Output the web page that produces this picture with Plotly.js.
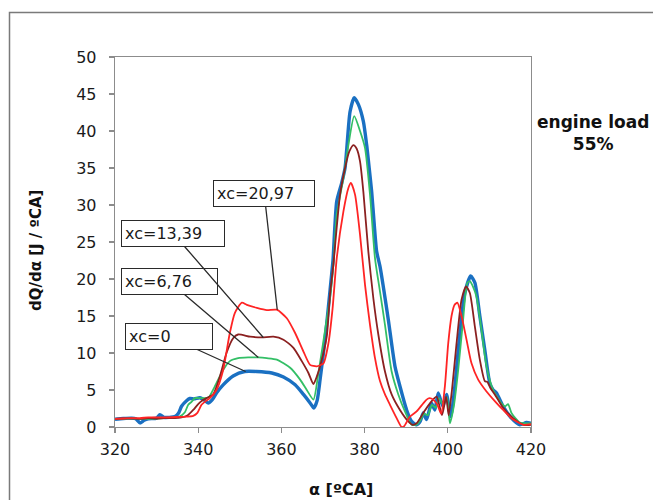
<!DOCTYPE html>
<html>
<head>
<meta charset="utf-8">
<script src="https://cdn.plot.ly/plotly-3.0.1.min.js"></script>
<style>
  html, body { margin: 0; padding: 0; background: #ffffff; }
  #chart { width: 653px; height: 500px; }
</style>
</head>
<body>
<div id="chart"></div>
<script>
// Heat release rate dQ/dα versus crank angle, engine load 55 %

// xc = 0
const alphaXc0 = [320, 322, 324, 325, 326, 327, 328, 330, 330.8, 331.8, 333, 334.4, 335.3, 336, 337.2, 338, 339, 340.4, 341.3, 342.4, 343.4, 344.4, 346, 348.4, 351.2, 354, 357.7, 360.5, 363.3, 365.3, 366.9, 367.8, 368.6, 369.3, 370.1, 370.9, 371.7, 372.4, 373.3, 374.5, 375.3, 375.7, 376.5, 377.5, 378.5, 379.7, 380.5, 381.1, 381.7, 382.3, 382.9, 383.7, 385.7, 387.3, 388.5, 390.1, 391.3, 392.5, 393.4, 394.1, 394.9, 395.6, 396.1, 396.9, 397.7, 398.8, 399.7, 400.7, 401.7, 402.9, 404.1, 405.5, 406.5, 407.7, 408.9, 410.1, 410.9, 411.7, 413.3, 415.3, 417.3, 418.9, 420];
const dqXc0 = [1.05, 1.15, 1.2, 1.1, 0.55, 0.9, 1.1, 1.2, 1.65, 1.3, 1.3, 1.4, 1.9, 2.8, 3.55, 3.85, 3.8, 3.95, 3.7, 3.25, 3.7, 4.6, 5.7, 6.9, 7.5, 7.5, 7.3, 6.75, 5.7, 4.4, 3.25, 2.55, 3.6, 6.4, 10, 14, 18.5, 22.5, 30.5, 33.0, 35, 37.5, 42.6, 44.5, 43.6, 41.3, 38.1, 35, 31.8, 27.5, 23.7, 21.7, 14.5, 8.2, 5.5, 2.3, 0.75, 0.3, 0.8, 1.9, 1.0, 2.4, 3.2, 2.3, 4.6, 2.8, 4.4, 1.4, 5.5, 12.7, 18.1, 20.4, 19.5, 15, 10.4, 5.9, 5.0, 4.6, 2.8, 1.2, 0.3, 0.6, 0.5];

// xc = 6,76
const alphaXc676 = [320, 322, 324, 326, 328, 330, 332, 334, 335.5, 336.8, 337.6, 338.4, 339.2, 340.3, 341.2, 342.5, 344, 346, 347.6, 349.6, 352, 354.4, 356.5, 358.9, 362.1, 364.5, 366.1, 367.7, 368.9, 370.5, 371.7, 372.5, 373.3, 374.9, 376.1, 377.5, 378.9, 380.1, 381.3, 382.5, 383.7, 384.9, 386.5, 388.1, 389.7, 391.3, 392.5, 393.5, 394.3, 395.2, 396.2, 397.1, 397.9, 398.9, 399.8, 400.5, 401.5, 402.5, 403.6, 404.7, 405.3, 406.1, 406.9, 408.1, 409.3, 410.9, 412.9, 413.8, 414.5, 415.3, 417.3, 420];
const dqXc676 = [1.1, 1.1, 1.15, 1.1, 1.1, 1.15, 1.2, 1.25, 1.4, 2.0, 3.0, 3.4, 3.9, 3.9, 3.9, 4.0, 5.5, 7.7, 8.9, 9.3, 9.4, 9.4, 9.3, 9.1, 8.0, 6.4, 5.0, 3.7, 7.3, 13.1, 17.5, 22, 28.7, 33.6, 38.1, 42.0, 40, 37.7, 31.4, 22.8, 18.3, 13.8, 7.5, 4.4, 2.1, 0.3, 0.3, 1.0, 1.8, 1.6, 3.0, 2.6, 3.9, 3.0, 4.0, 0.5, 3.0, 7.7, 14, 19.5, 19.7, 18.9, 17.6, 13.1, 8.2, 5.0, 3.2, 2.8, 3.1, 1.9, 0.6, 0.5];

// xc = 13,39
const alphaXc1339 = [320, 322, 324, 326, 328, 330, 332, 334, 336, 337.5, 338.8, 340.0, 340.8, 342, 343.6, 345.2, 346.8, 348.4, 349.6, 352.5, 355.3, 358.1, 360.5, 362.9, 364.9, 366.5, 367.7, 368.5, 369.3, 370.9, 371.7, 372.5, 373.3, 374.1, 375.3, 376.3, 377.3, 378.1, 378.9, 379.7, 380.9, 382.1, 383.3, 384.9, 386.5, 388.5, 390.5, 391.5, 392.5, 394.1, 395.7, 397.3, 398.6, 399.6, 400.2, 401, 402.1, 403.3, 404.4, 405.3, 406.5, 407.7, 408.9, 409.5, 410.2, 411.3, 413.3, 415.7, 418.2, 420];
const dqXc1339 = [1.1, 1.15, 1.15, 1.1, 1.2, 1.15, 1.2, 1.2, 1.3, 1.6, 2.3, 3.1, 3.5, 3.9, 4.4, 6.8, 10, 12.0, 12.5, 12.2, 12.1, 12.2, 11.8, 10.7, 8.9, 7.3, 5.8, 6.8, 8.2, 12.2, 18, 22, 27, 31.4, 35, 37.2, 38.1, 37.6, 35.9, 31.8, 23.7, 17.4, 12.5, 7.5, 4.4, 2.3, 0.75, 0.3, 0.5, 1.9, 3.2, 4.1, 1.6, 4.1, 1.6, 5, 11.3, 17.2, 19.0, 18.1, 13.6, 9.1, 6.2, 6.1, 5.3, 4.4, 2.6, 1.2, 0.3, 0.3];

// xc = 20,97
const alphaXc2097 = [320, 322, 324, 326, 328, 330, 332, 334.8, 337.2, 338.8, 339.8, 340.8, 341.8, 342.8, 344.4, 346, 347.6, 348.8, 350.5, 351.7, 354.1, 356.5, 358.9, 361.3, 363.3, 365.3, 366.9, 368.5, 370.1, 371.3, 372.3, 373.3, 374.9, 376.1, 376.7, 377.7, 378.9, 380.1, 381.3, 382.5, 383.7, 384.9, 386.1, 387.7, 388.9, 389.5, 390.9, 392.5, 394.1, 394.9, 395.6, 396.5, 397.5, 398.4, 399.3, 400.1, 400.9, 401.6, 402.3, 403.3, 404.5, 405.7, 407.3, 409.3, 411.3, 413.3, 415.7, 418.2, 420];
const dqXc2097 = [1.1, 1.15, 1.2, 1.2, 1.3, 1.3, 1.3, 1.35, 1.4, 1.5, 1.9, 3.0, 3.5, 3.9, 5.0, 7.7, 12.7, 15.4, 16.8, 16.5, 16.1, 15.8, 15.85, 14.7, 12.7, 10.2, 8.4, 8.2, 8.6, 11.3, 16.0, 22.8, 29.1, 32.3, 33.0, 31.4, 26, 19.2, 13.8, 9.3, 6.2, 4.4, 3.0, 1.2, 0.0, 0.1, 1.4, 2.1, 3.2, 3.7, 3.9, 3.7, 3.0, 1.8, 5.5, 11.3, 15, 16.5, 16.8, 15, 11.8, 8.6, 6.4, 4.8, 3.5, 2.3, 1.0, 0.3, 0.4];

const xTicks = [320, 340, 360, 380, 400, 420];
const yTicks = [0, 5, 10, 15, 20, 25, 30, 35, 40, 45, 50];

// label text, point it marks on its curve
const labelTexts = ['xc=0', 'xc=6,76', 'xc=13,39', 'xc=20,97'];
const labelAlpha = [351.4, 354.45, 355.65, 359.0];
const labelDq = [7.5, 9.4, 12.1, 15.85];

const FONT = 'DejaVu Sans, Verdana, sans-serif';
const AXIS_GREY = '#8c8c8c';

function curve(x, y, color, width) {
  return {
    type: 'scatter', mode: 'lines', x: x, y: y,
    line: { color: color, width: width, shape: 'spline', smoothing: 0.6 },
    hoverinfo: 'skip', showlegend: false
  };
}

const traces = [
  curve(alphaXc0, dqXc0, '#1a70c2', 3.4),
  curve(alphaXc676, dqXc676, '#33bf66', 1.8),
  curve(alphaXc1339, dqXc1339, '#8b2020', 1.8),
  curve(alphaXc2097, dqXc2097, '#ff2424', 1.8)
];

// box geometry for the curve labels: offset of box centre from arrow head (px), box size
const boxOffsets = [[-77, -35], [-89, -76], [-90, -104], [-13, -116]];
const boxWidths = [80, 89, 96, 94];

const labelNotes = labelTexts.map((t, i) => ({
  text: t, x: labelAlpha[i], y: labelDq[i], xref: 'x', yref: 'y',
  showarrow: true, arrowhead: 0, arrowwidth: 1.3, arrowcolor: '#2a2a2a',
  ax: boxOffsets[i][0], ay: boxOffsets[i][1],
  width: boxWidths[i], height: 19, align: 'left',
  bgcolor: '#ffffff', bordercolor: '#2a2a2a', borderwidth: 1, borderpad: 3,
  font: { family: FONT, size: 16, color: '#1a1a1a' }
}));

const textNotes = [
  { text: '<b>α [ºCA]</b>', xref: 'paper', yref: 'paper', x: 0.543, y: -0.17,
    xanchor: 'center', yanchor: 'middle', showarrow: false,
    font: { family: FONT, size: 16, color: '#111111' } },
  { text: '<b>dQ/dα [J / ºCA]</b>', xref: 'paper', yref: 'paper', x: -0.191, y: 0.477,
    xanchor: 'center', yanchor: 'middle', textangle: -90, showarrow: false,
    font: { family: FONT, size: 15, color: '#111111' } },
  { text: '<b>engine load<br>55%</b>', xref: 'paper', yref: 'paper', x: 1.148, y: 0.795,
    xanchor: 'center', yanchor: 'middle', align: 'center', showarrow: false,
    font: { family: FONT, size: 17, color: '#111111' } }
];

const axisCommon = {
  showgrid: false, zeroline: false, showline: true, mirror: true,
  linecolor: AXIS_GREY, linewidth: 1.3,
  ticks: 'outside', ticklen: 5, tickwidth: 1.2, tickcolor: AXIS_GREY,
  tickfont: { family: FONT, size: 16, color: '#1a1a1a' },
  fixedrange: true
};

const layout = {
  width: 653, height: 500,
  margin: { l: 115, r: 122, t: 57, b: 73, pad: 0 },
  paper_bgcolor: '#ffffff', plot_bgcolor: '#ffffff',
  showlegend: false, hovermode: false,
  xaxis: Object.assign({}, axisCommon, {
    range: [320, 420], tickmode: 'array', tickvals: xTicks, ticktext: xTicks.map(String),
    ticklabelstandoff: 2
  }),
  yaxis: Object.assign({}, axisCommon, {
    range: [0, 50], tickmode: 'array', tickvals: yTicks, ticktext: yTicks.map(String),
    ticklabelstandoff: 9
  }),
  annotations: labelNotes.concat(textNotes),
  shapes: [
    // outer frame around the figure
    { type: 'rect', xref: 'paper', yref: 'paper', x0: -0.2536, x1: 3, y0: -3, y1: 1.1205,
      line: { color: '#7a7a7a', width: 1.5 }, fillcolor: 'rgba(0,0,0,0)', layer: 'below' }
  ]
};

Plotly.newPlot('chart', traces, layout, { staticPlot: true, displayModeBar: false });
</script>
</body>
</html>
